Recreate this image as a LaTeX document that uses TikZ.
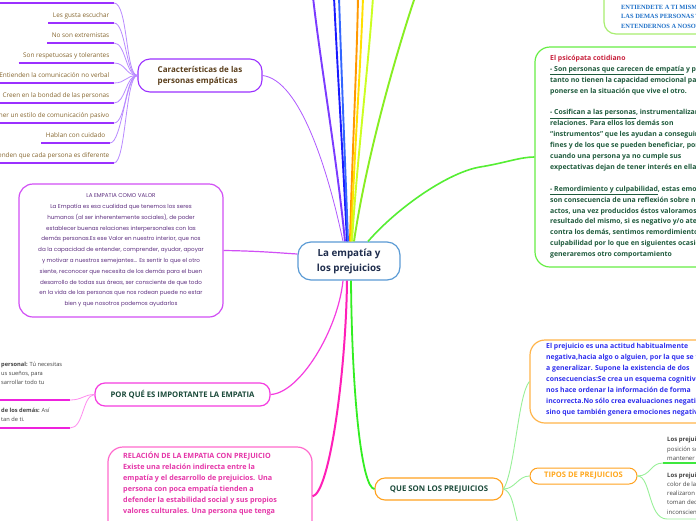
\documentclass[tikz,border=0pt]{standalone}
\usepackage{fontspec}
\setmainfont{Open Sans}
\newfontfamily\popf{Poppins}
\newfontfamily\serf{Liberation Serif}
\usetikzlibrary{calc}
\newcommand\fsz[2]{\fontsize{#1}{#2}\selectfont}
\definecolor{cblue}{HTML}{5B9BD5}
\definecolor{cnavy}{HTML}{1F2D4D}
\definecolor{carv}{HTML}{9B30FF}
\definecolor{carl}{HTML}{B98AFF}
\definecolor{brownd}{HTML}{5A3E1B}
\definecolor{itembrown}{HTML}{86662F}
\definecolor{valc}{HTML}{D14FF5}
\definecolor{valtext}{HTML}{5E2F80}
\definecolor{porc}{HTML}{F53DE0}
\definecolor{porl}{HTML}{FF8BEF}
\definecolor{porbarc}{HTML}{EE22DD}
\definecolor{dkgreen}{HTML}{1B4A3A}
\definecolor{relc}{HTML}{FF6ACD}
\definecolor{relline}{HTML}{FF1FB8}
\definecolor{reltext}{HTML}{E535A8}
\definecolor{queline}{HTML}{33EE22}
\definecolor{orangeb}{HTML}{FFA21F}
\definecolor{tiptext}{HTML}{FFA81E}
\definecolor{prejc}{HTML}{FFB54A}
\definecolor{prejtext}{HTML}{2F2FEE}
\definecolor{psicc}{HTML}{66EE44}
\definecolor{psicred}{HTML}{C8203C}
\definecolor{psictext}{HTML}{1E5A3C}
\definecolor{entc}{HTML}{A8EE70}
\definecolor{enttext}{HTML}{1E70C8}
\definecolor{subg}{HTML}{99F099}
\definecolor{rbarc}{HTML}{3EE83E}
\definecolor{fragtext}{HTML}{444444}
\definecolor{lpurple}{HTML}{7B3BFF}
\definecolor{lblue}{HTML}{1A1AFF}
\definecolor{lblue2}{HTML}{3366FF}
\definecolor{lorange}{HTML}{FF9900}
\definecolor{lyellow}{HTML}{FFE000}
\definecolor{lyg}{HTML}{CCFF22}
\definecolor{llime}{HTML}{88EE22}
\definecolor{lgreen}{HTML}{55EE33}
\tikzset{
  mainbox/.style={draw=cblue, line width=1.2pt, rounded corners=13pt, minimum width=102pt, minimum height=38pt, align=center, font=\fsz{9.8}{15}\bfseries, text=cnavy, fill=white, inner sep=0pt},
  carbox/.style={draw=carv, line width=1.1pt, rounded corners=12pt, minimum width=124pt, minimum height=33pt, align=left, font=\fsz{8}{11}\bfseries, text=brownd, inner sep=0pt},
  itemtxt/.style={anchor=south east, inner xsep=4.5pt, inner ysep=4pt, text height=4.7pt, text depth=1.3pt, font=\fsz{6.4}{7}, text=itembrown},
  barline/.style={draw=carv, line width=2.4pt},
  carsub/.style={draw=carl, line width=0.8pt},
  valbox/.style={draw=valc, line width=1.2pt, rounded corners=14pt, minimum width=204pt, minimum height=133pt, align=center, font=\popf\fsz{5.6}{10.8}, text=valtext, inner sep=0pt},
  valline/.style={draw=valc, line width=1.2pt},
  porbox/.style={draw=porc, line width=1.2pt, rounded corners=10pt, minimum width=175pt, minimum height=23pt, font=\fsz{7.7}{9}\bfseries, text=dkgreen, inner sep=0pt},
  porline/.style={draw=porc, line width=1.2pt},
  porsub/.style={draw=porl, line width=0.8pt},
  porbar/.style={draw=porbarc, line width=2.4pt},
  fragtxt/.style={anchor=north west, inner sep=0pt, align=left, font=\fsz{5.7}{9}, text=fragtext},
  relbox/.style={draw=relc, line width=1.2pt, rounded corners=15pt, minimum width=204pt, minimum height=146pt, inner sep=0pt},
  reltxt/.style={anchor=north west, inner sep=0pt, align=left, font=\fsz{7.2}{11}\bfseries, text=reltext},
  relln/.style={draw=relline, line width=2pt},
  quebox/.style={draw=orangeb, line width=1.1pt, rounded corners=10pt, minimum width=128pt, minimum height=22pt, font=\fsz{7.8}{9}\bfseries, text=dkgreen, inner sep=0pt},
  queln/.style={draw=queline, line width=1.8pt},
  tipbox/.style={draw=orangeb, line width=1pt, rounded corners=8pt, minimum width=107pt, minimum height=16pt, font=\fsz{7.6}{9}\bfseries, text=tiptext, inner sep=0pt},
  prejbox/.style={draw=prejc, line width=1.2pt, rounded corners=15pt, minimum width=200pt, minimum height=83pt, inner sep=0pt},
  prejtxt/.style={anchor=north west, inner sep=0pt, align=left, font=\fsz{6.9}{11}\bfseries, text=prejtext},
  psicbox/.style={draw=psicc, line width=1.2pt, rounded corners=15pt, minimum width=200pt, minimum height=220pt, inner sep=0pt},
  psictxt/.style={anchor=north west, inner sep=0pt, align=left, font=\fsz{6.9}{10.9}\bfseries, text=psictext},
  entbox/.style={draw=entc, line width=1.2pt, rounded corners=12pt, minimum width=152pt, minimum height=58pt, inner sep=0pt},
  enttxt/.style={anchor=north west, inner sep=0pt, align=left, font=\serf\fsz{6.4}{9.5}\bfseries, text=enttext},
  subgreen/.style={draw=subg, line width=0.9pt},
  rbar/.style={draw=rbarc, line width=2.6pt},
  rtxt/.style={inner xsep=4pt, inner ysep=0pt, align=left, font=\fsz{6}{9.2}, text=fragtext},
  topln/.style={line width=1.9pt},
}
\begin{document}
\begin{tikzpicture}[x=1pt,y=-1pt]
\useasboundingbox (0,0) rectangle (696,520);
\clip (0,0) rectangle (696,520);
\fill[white] (0,0) rectangle (696,520);

% ---------- boxes ----------
\node[mainbox] (c) at (349,261) {La empatía y\\los prejuicios};
\node[carbox] (car) at (200,75.5) {Características de las\\personas empáticas};
\node[valbox] (val) at (121,250.5) {LA EMPATIA COMO VALOR\\La Empatía es esa cualidad que tenemos los seres\\humanos (al ser inherentemente sociales), de poder\\establecer buenas relaciones interpersonales con las\\demás personas.Es ese Valor en nuestro interior, que nos\\da la capacidad de entender, comprender, ayudar, apoyar\\y motivar a nuestros semejantes... Es sentir lo que el otro\\siente, reconocer que necesita de los demás para el buen\\desarrollo de todas sus áreas, ser consciente de que todo\\en la vida de las personas que nos rodean puede no estar\\bien y que nosotros podemos ayudarlos};
\node[porbox] (por) at (182.5,394.5) {POR QUÉ ES IMPORTANTE LA EMPATIA};
\node[relbox] (rel) at (210,520) {};
\node[reltxt] (relt) at (123,452) {RELACIÓN DE LA EMPATIA CON PREJUICIO\\Existe una relación indirecta entre la\\empatía y el desarrollo de prejuicios. Una\\persona con poca empatía tienden a\\defender la estabilidad social y sus propios\\valores culturales. Una persona que tenga};
\node[quebox] (que) at (439,489) {QUE SON LOS PREJUICIOS};
\node[tipbox] (tip) at (583.5,476) {TIPOS DE PREJUICIOS};
\node[prejbox] (prej) at (630,381.5) {};
\node[prejtxt] (prejt) at (546,343) {El prejuicio es una actitud habitualmente\\negativa,hacia algo o alguien, por la que se tiende\\a generalizar. Supone la existencia de dos\\consecuencias:Se crea un esquema cognitivo que\\nos hace ordenar la información de forma\\incorrecta.No sólo crea evaluaciones negativas,\\sino que también genera emociones negativas};
\node[psicbox] (psic) at (635,157) {};
\node[psictxt] (psict) at (550,55) {{\color{psicred}El psicópata cotidiano}\\\underline{- Son personas que carecen de empatía} y por\\tanto no tienen la capacidad emocional para\\ponerse en la situación que vive el otro.\\[10.9pt]\underline{- Cosifican a las personas}, instrumentalizan las\\relaciones. Para ellos los demás son\\``instrumentos'' que les ayudan a conseguir sus\\fines y de los que se pueden beneficiar, por eso\\cuando una persona ya no cumple sus\\expectativas dejan de tener interés en ella.\\[10.9pt]\underline{- Remordimiento y culpabilidad}, estas emociones\\son consecuencia de una reflexión sobre nuestros\\actos, una vez producidos éstos valoramos el\\resultado del mismo, si es negativo y/o atenta\\contra los demás, sentimos remordimiento y\\culpabilidad por lo que en siguientes ocasiones\\generaremos otro comportamiento};
\node[entbox] (ent) at (680,5) {};
\node[enttxt] (entt) at (621,5) {ENTIENDETE A TI MISMO Y\\LAS DEMAS PERSONAS TE\\ENTENDERNOS A NOSOTROS};

% ---------- left list ----------
\coordinate (l1) at (114,3);
\draw[barline] (-5,3) -- (l1);
\node[itemtxt] (l2) at (114,23) {Les gusta escuchar};
\node[itemtxt] (l3) at (114,43) {No son extremistas};
\node[itemtxt] (l4) at (114,63) {Son respetuosas y tolerantes};
\node[itemtxt] (l5) at (114,83) {Entienden la comunicación no verbal};
\node[itemtxt] (l6) at (114,103) {Creen en la bondad de las personas};
\node[itemtxt] (l7) at (114,123) {Tener un estilo de comunicación pasivo};
\node[itemtxt] (l8) at (110,143) {Hablan con cuidado};
\node[itemtxt] (l9) at (114,163) {Comprenden que cada persona es diferente};
\foreach \n in {l2,l3,l4,l5,l6,l7,l8,l9}{
  \draw[barline] (\n.south west) -- (\n.south east);
}
\draw[carsub] (l1) .. controls +(14,0) and +(-12,0) .. (car.west);
\foreach \n in {l2,l3,l4,l5,l6,l7,l8,l9}{
  \draw[carsub] (\n.south east) .. controls +(12,0) and +(-12,0) .. (car.west);
}

% ---------- por que leaves ----------
\node[fragtxt] (f1) at (1,362) {\textbf{personal:} Tú necesitas\\us sueños, para\\sarrollar todo tu};
\node[fragtxt] (f2) at (1,408) {\textbf{de los demás:} Así\\tan de ti.};
\coordinate (pb1) at (70,400);
\coordinate (pb2) at (70,428);
\draw[porbar] (-5,400) -- (pb1);
\draw[porbar] (-5,428) -- (pb2);
\draw[porsub] (por.west) .. controls (84,394.5) and (82,400) .. (pb1);
\draw[porsub] (por.west) .. controls (82,396) and (84,428) .. (pb2);

% ---------- right leaves ----------
\node[rtxt, anchor=south west, inner ysep=2.5pt] (rt1) at (663,463) {\textbf{Los prejuicios de clase:}\\posición social\\mantener su};
\node[rtxt, anchor=north west] (rt2) at (663,472.5) {\textbf{Los prejuicios raciales:}\\color de la piel\\realizaron estudios\\toman decisiones\\inconscientemente};
\coordinate (rb1) at (663,463);
\coordinate (rb2) at (667,519);
\draw[rbar] (rb1) -- (700,463);
\draw[subgreen] (tip.east) .. controls (651,476) and (650,463) .. (rb1);
\draw[subgreen] (tip.east) .. controls (651,476) and (648,519) .. (rb2) -- (700,519);

% ---------- que son leaves ----------
\draw[subgreen] (que.east) .. controls (515,470) and (518,395) .. (prej.west);
\draw[subgreen] (que.east) .. controls (515,489) and (518,476) .. (tip.west);
\draw[subgreen] (que.east) .. controls (512,492) and (513,505) .. (518,524);

% ---------- main connectors ----------
\draw[topln, lpurple] ([xshift=-4pt]c.north) .. controls (337,160) and (320,60) .. (313,-3);
\draw[topln, lblue] ([xshift=-2pt]c.north) .. controls (343,160) and (337,60) .. (334,-3);
\draw[topln, lblue2] ([xshift=-1pt]c.north) .. controls (345,160) and (341,60) .. (339,-3);
\draw[topln, lorange] ([xshift=1pt]c.north) .. controls (352,160) and (357,60) .. (358,-3);
\draw[topln, lyellow] ([xshift=2pt]c.north) .. controls (354,160) and (361,60) .. (363,-3);
\draw[topln, lyg] ([xshift=3pt]c.north) .. controls (357,160) and (369,60) .. (373,-3);
\draw[topln, llime] ([xshift=5pt]c.north) .. controls (366,160) and (394,60) .. (415,-3);
\draw[carsub, draw=carv!80] (car.east) .. controls (300,80) and (328,170) .. ([xshift=-6pt]c.north);
\draw[lgreen, line width=1.6pt] ([xshift=19pt]c.north) .. controls (400,205) and (450,172) .. (480,167) .. controls (505,163) and (520,157) .. (psic.west);
\draw[valline] (val.east) .. controls (260,251) and (280,253) .. ([yshift=7pt]c.west);
\draw[porline] ([xshift=-6pt]c.south) .. controls (338,330) and (300,393) .. (por.east);
\draw[relln] ([xshift=-2pt]c.south) .. controls (346,370) and (330,492) .. ($(rel.north east)+(0,50)$);
\draw[queln] ([xshift=2pt]c.south) .. controls (352,400) and (362,488) .. (que.west);
\end{tikzpicture}
\end{document}
